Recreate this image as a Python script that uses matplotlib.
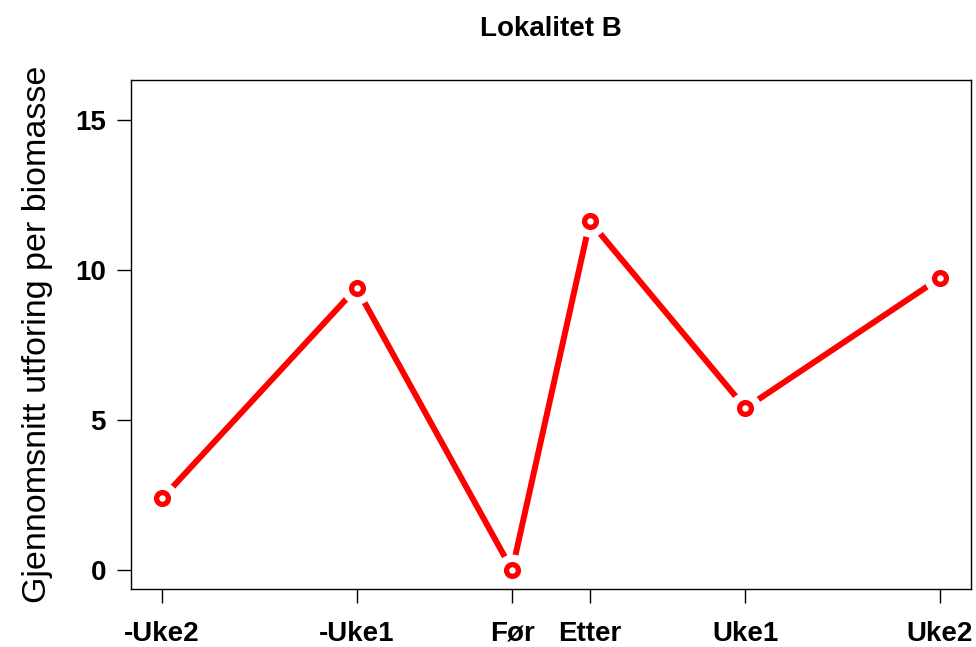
import matplotlib
matplotlib.use('Agg')
import matplotlib.pyplot as plt

plt.rcParams['font.family'] = ['Liberation Sans', 'DejaVu Sans']

# data
uker = ['-Uke2', '-Uke1', 'Før', 'Etter', 'Uke1', 'Uke2']
xpos = [0, 5, 9, 11, 15, 20]
verdier = [2.39, 9.40, 0.0, 11.62, 5.40, 9.73]

fig = plt.figure(figsize=(9.76, 6.47), dpi=100)
ax = fig.add_axes([0.1342, 0.0896, 0.8607, 0.7868])

# line first, then white halo to break line around points (R type="b")
ax.plot(xpos, verdier, color='red', lw=4.3, solid_capstyle='butt', zorder=2)
ax.plot(xpos, verdier, ls='none', marker='o', ms=22, mfc='white', mec='white', zorder=3)
ax.plot(xpos, verdier, ls='none', marker='o', ms=8.5, mfc='white', mec='red', mew=3.8, zorder=4)

ax.set_xlim(-0.8, 20.8)
ax.set_ylim(-0.63, 16.33)
ax.set_xticks(xpos)
ax.set_xticklabels(uker)
ax.set_yticks([0, 5, 10, 15])
ax.tick_params(axis='both', length=10, width=1, labelsize=20, pad=8)
ax.tick_params(axis='x', pad=13)
for lab in ax.get_xticklabels() + ax.get_yticklabels():
    lab.set_fontweight('bold')
for s in ax.spines.values():
    s.set_linewidth(1)

ax.set_ylabel('Gjennomsnitt utforing per biomasse', fontsize=24.5, labelpad=16)
ax.set_title('Lokalitet B', fontsize=20, fontweight='bold', pad=32)

fig.savefig('out.png', dpi=100)
